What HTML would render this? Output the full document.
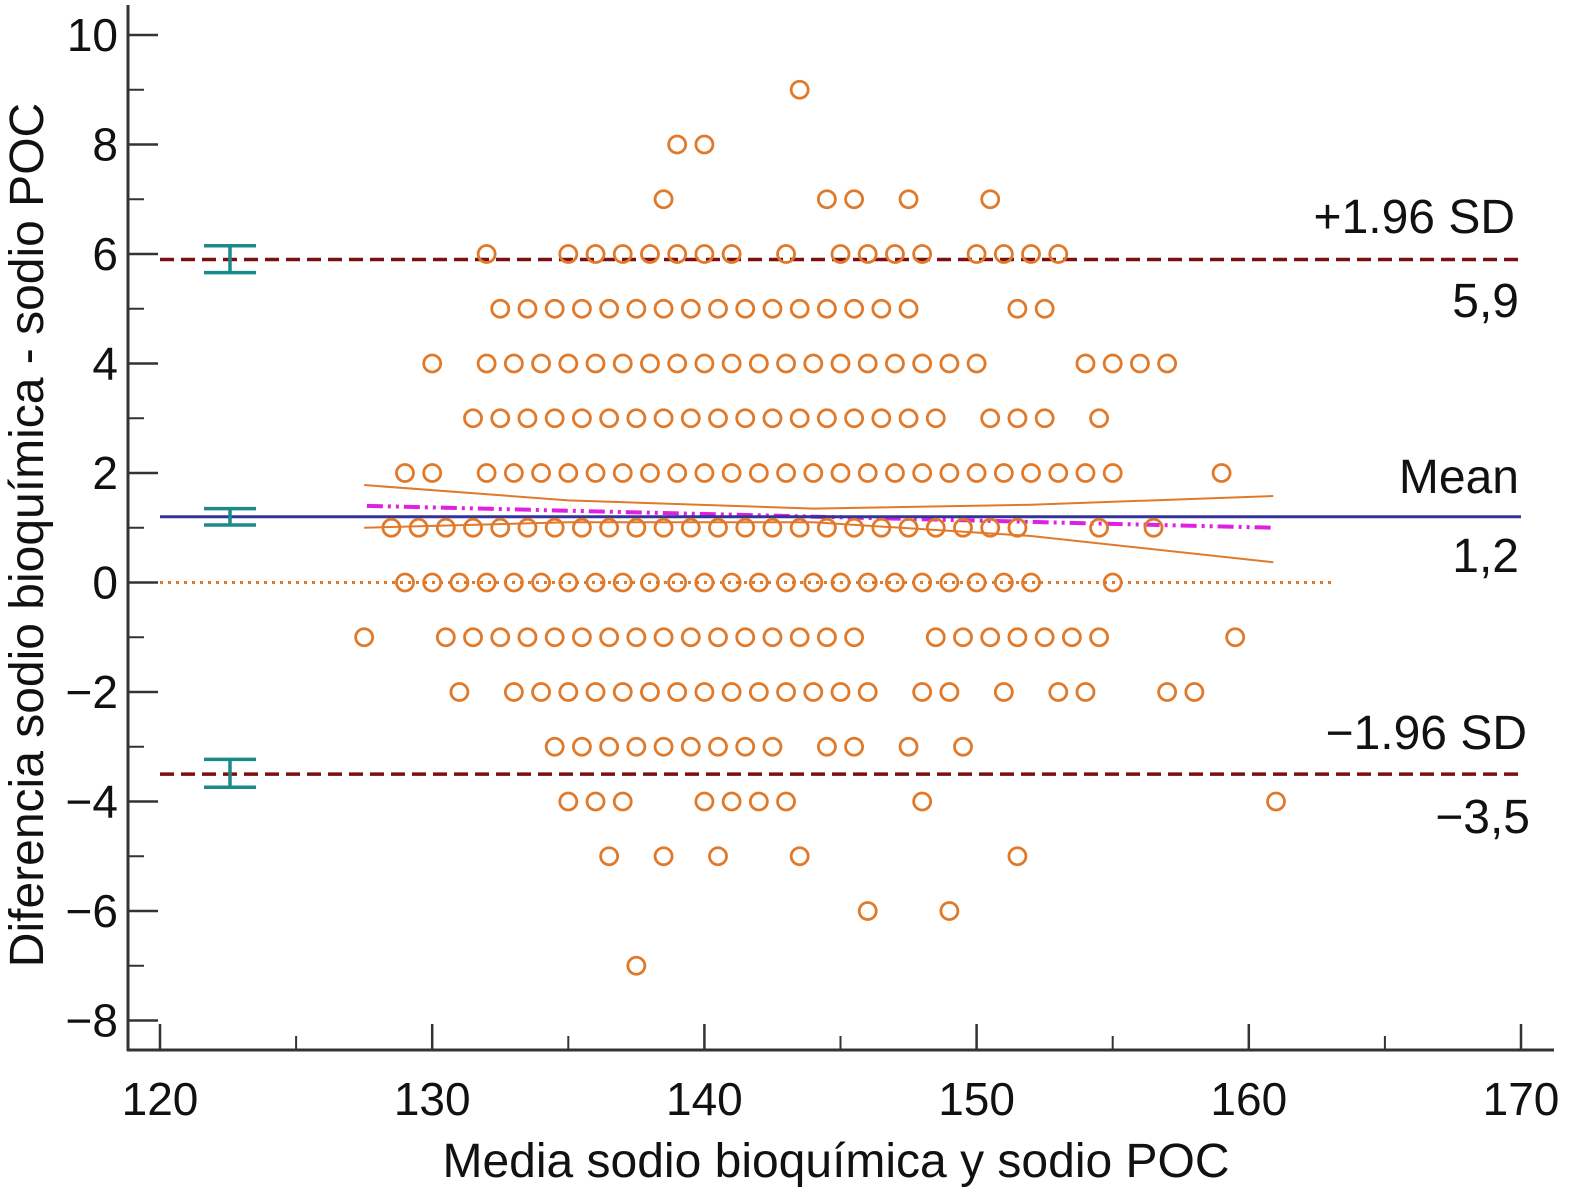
<!DOCTYPE html>
<html><head><meta charset="utf-8"><style>
body{margin:0;background:#fff}
svg text{font-family:"Liberation Sans",sans-serif;fill:#111}
</style></head><body>
<svg id="chart" width="1581" height="1196" viewBox="0 0 1581 1196" xmlns="http://www.w3.org/2000/svg">
<g id="axes"></g>
<g id="lines"></g>
<g id="pts"></g>
<g id="labels"></g>
</svg>
<script>
const xTicks=[120,130,140,150,160,170];
const yTicks=[-8,-6,-4,-2,0,2,4,6,8,10];
const meanDiff=1.2, upperLoA=5.9, lowerLoA=-3.5;
const meanCI=[1.05,1.35], upperCI=[5.66,6.15], lowerCI=[-3.74,-3.23];
const regX=[127.6,160.9];
const regY=[1.4,1.0];
const bandX=[127.5,135,144,152,160.9];
const bandUpper=[1.78,1.5,1.35,1.42,1.58];
const bandLower=[1.0,1.1,1.1,0.85,0.37];
const rowY=[9,8,7,6,5,4,3,2,1,0,-1,-2,-3,-4,-5,-6,-7];
const rowX=[
[143.5],
[139,140],
[138.5,144.5,145.5,147.5,150.5],
[132,135,136,137,138,139,140,141,143,145,146,147,148,150,151,152,153],
[132.5,133.5,134.5,135.5,136.5,137.5,138.5,139.5,140.5,141.5,142.5,143.5,144.5,145.5,146.5,147.5,151.5,152.5],
[130,132,133,134,135,136,137,138,139,140,141,142,143,144,145,146,147,148,149,150,154,155,156,157],
[131.5,132.5,133.5,134.5,135.5,136.5,137.5,138.5,139.5,140.5,141.5,142.5,143.5,144.5,145.5,146.5,147.5,148.5,150.5,151.5,152.5,154.5],
[129,130,132,133,134,135,136,137,138,139,140,141,142,143,144,145,146,147,148,149,150,151,152,153,154,155,159],
[128.5,129.5,130.5,131.5,132.5,133.5,134.5,135.5,136.5,137.5,138.5,139.5,140.5,141.5,142.5,143.5,144.5,145.5,146.5,147.5,148.5,149.5,150.5,151.5,154.5,156.5],
[129,130,131,132,133,134,135,136,137,138,139,140,141,142,143,144,145,146,147,148,149,150,151,152,155],
[127.5,130.5,131.5,132.5,133.5,134.5,135.5,136.5,137.5,138.5,139.5,140.5,141.5,142.5,143.5,144.5,145.5,148.5,149.5,150.5,151.5,152.5,153.5,154.5,159.5],
[131,133,134,135,136,137,138,139,140,141,142,143,144,145,146,148,149,151,153,154,157,158],
[134.5,135.5,136.5,137.5,138.5,139.5,140.5,141.5,142.5,144.5,145.5,147.5,149.5],
[135,136,137,140,141,142,143,148,161],
[136.5,138.5,140.5,143.5,151.5],
[146,149],
[137.5]
];
const NS='http://www.w3.org/2000/svg';
const X=v=>160+(v-120)*27.22;
const Y=v=>582.5-v*54.75;
function mk(parent,tag,attrs,text){const e=document.createElementNS(NS,tag);for(const k in attrs)e.setAttribute(k,attrs[k]);if(text!==undefined)e.textContent=text;document.getElementById(parent).appendChild(e);return e;}
let e=mk('axes','line',{x1:128,y1:5,x2:128,y2:1051,stroke:'#333','stroke-width':3});

e=mk('axes','line',{x1:127,y1:1050,x2:1554,y2:1050,stroke:'#333','stroke-width':3});

for(let i=0;i<yTicks.length;i++){const v=yTicks[i];
 e=mk('axes','line',{x1:128,y1:Y(v),x2:158,y2:Y(v),stroke:'#333','stroke-width':2.5});
 
 e=mk('axes','line',{x1:128,y1:Y(v+1),x2:144,y2:Y(v+1),stroke:'#333','stroke-width':2});
 
 e=mk('axes','text',{x:118,y:Y(v)+16,'text-anchor':'end','font-size':46},String(v).replace('-','\u2212'));
 }
for(let i=0;i<xTicks.length;i++){const v=xTicks[i];
 e=mk('axes','line',{x1:X(v),y1:1050,x2:X(v),y2:1024,stroke:'#333','stroke-width':2.5});
 
 if(i<xTicks.length-1){e=mk('axes','line',{x1:X(v+5),y1:1050,x2:X(v+5),y2:1036,stroke:'#333','stroke-width':2});
 }
 e=mk('axes','text',{x:X(v),y:1115,'text-anchor':'middle','font-size':46},String(v));
 }
e=mk('axes','text',{x:836,y:1177,'text-anchor':'middle','font-size':48},'Media sodio bioquímica y sodio POC');

e=mk('axes','text',{x:0,y:0,'text-anchor':'middle','font-size':48,transform:'translate(43,535) rotate(-90)'},'Diferencia sodio bioquímica - sodio POC');

e=mk('lines','line',{x1:X(120),y1:Y(0),x2:X(163.1),y2:Y(0),stroke:'#e07a2a','stroke-width':3,'stroke-dasharray':'3 5'});

const bp=a=>bandX.map((x,i)=>X(x)+','+Y(a[i])).join(' ');
e=mk('lines','polyline',{points:bp(bandUpper),fill:'none',stroke:'#e07a2a','stroke-width':2});

e=mk('lines','polyline',{points:bp(bandLower),fill:'none',stroke:'#e07a2a','stroke-width':2});

e=mk('lines','line',{x1:X(regX[0]),y1:Y(regY[0]),x2:X(regX[1]),y2:Y(regY[1]),stroke:'#e020e0','stroke-width':4,'stroke-dasharray':'16 5 3 5 3 5'});

e=mk('lines','line',{x1:X(120),y1:Y(meanDiff),x2:X(170),y2:Y(meanDiff),stroke:'#33339a','stroke-width':3});

e=mk('lines','line',{x1:X(120),y1:Y(upperLoA),x2:X(170),y2:Y(upperLoA),stroke:'#7a1010','stroke-width':3.5,'stroke-dasharray':'14 7'});

e=mk('lines','line',{x1:X(120),y1:Y(lowerLoA),x2:X(170),y2:Y(lowerLoA),stroke:'#7a1010','stroke-width':3.5,'stroke-dasharray':'14 7'});

[meanCI,upperCI,lowerCI].forEach(ci=>{
 const g=mk('lines','path',{d:`M204 ${Y(ci[0])}H256M204 ${Y(ci[1])}H256M230 ${Y(ci[0])}V${Y(ci[1])}`,stroke:'#1a8a8a','stroke-width':3.5,fill:'none'});
 });
for(let r=0;r<rowY.length;r++){for(const xv of rowX[r]){
 e=mk('pts','circle',{cx:X(xv),cy:Y(rowY[r]),r:8.5,fill:'none',stroke:'#e07a2a','stroke-width':2.8});
 }}
const L=[['+1.96 SD',1515,233,'upper-loa-label'],['5,9',1519,317,'upper-loa-value'],['Mean',1519,493,'mean-label'],['1,2',1519,572,'mean-value'],['\u22121.96 SD',1527,749,'lower-loa-label'],['\u22123,5',1530,833,'lower-loa-value']];
L.forEach(l=>{e=mk('labels','text',{x:l[1],y:l[2],'text-anchor':'end','font-size':48},l[0]);
 });
</script>
</body></html>
